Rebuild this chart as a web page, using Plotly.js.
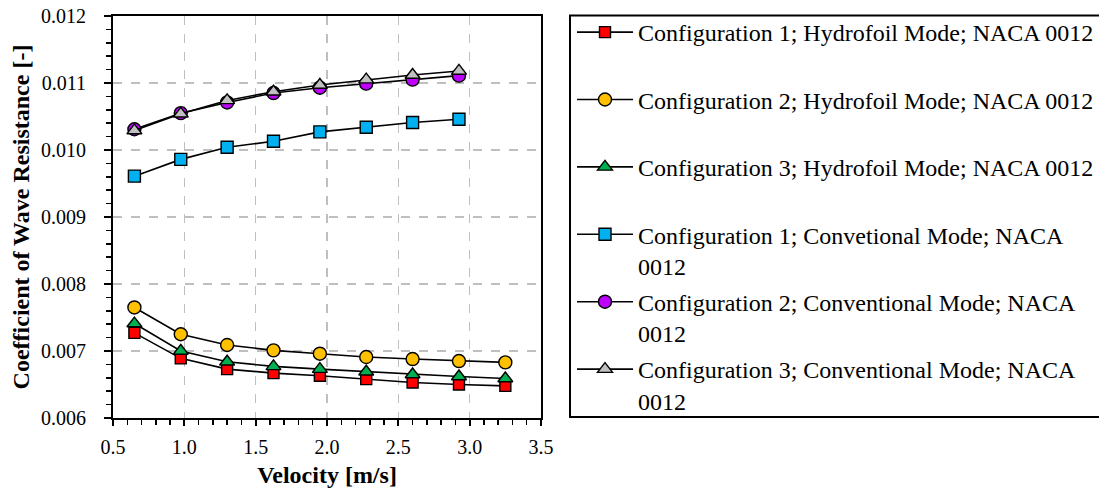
<!DOCTYPE html>
<html>
<head>
<meta charset="utf-8">
<script src="https://cdn.plot.ly/plotly-3.0.1.min.js"></script>
<style>html,body{margin:0;padding:0;background:#fff;}#chart{width:1099px;height:496px;}</style>
</head>
<body>
<div id="chart"></div>
<script>
const velocity = [0.65, 0.975, 1.30, 1.625, 1.95, 2.275, 2.60, 2.925, 3.25];
const velocityConv = [0.65, 0.975, 1.30, 1.625, 1.95, 2.275, 2.60, 2.925];

const cfg1Hydro = [0.00727, 0.00689, 0.00673, 0.00667, 0.00663, 0.00658, 0.00653, 0.00650, 0.00648];
const cfg2Hydro = [0.00765, 0.00725, 0.00709, 0.00701, 0.00696, 0.00691, 0.00688, 0.00685, 0.00683];
const cfg3Hydro = [0.00741, 0.00700, 0.00684, 0.00677, 0.00673, 0.00669, 0.00665, 0.00662, 0.00659];
const cfg1Conv = [0.00961, 0.00986, 0.01004, 0.01013, 0.01027, 0.01034, 0.01041, 0.01046];
const cfg2Conv = [0.01031, 0.01055, 0.01071, 0.01085, 0.01093, 0.01099, 0.01105, 0.01111];
const cfg3Conv = [0.01029, 0.01054, 0.01074, 0.01087, 0.01097, 0.01105, 0.01112, 0.01118];

const seriesNames = [
  "Configuration 1; Hydrofoil Mode; NACA 0012<br>&nbsp;",
  "Configuration 2; Hydrofoil Mode; NACA 0012<br>&nbsp;",
  "Configuration 3; Hydrofoil Mode; NACA 0012<br>&nbsp;",
  "Configuration 1; Convetional Mode; NACA<br>0012",
  "Configuration 2; Conventional Mode; NACA<br>0012",
  "Configuration 3; Conventional Mode; NACA<br>0012"
];

const FONT = "Liberation Serif, Times New Roman, serif";

function trace(x, y, name, symbol, color, size, group) {
  return {
    x: x, y: y, name: name, type: 'scatter', mode: 'lines+markers',
    line: {color: '#000000', width: 1.6},
    marker: {symbol: symbol, color: color, size: size, line: {color: '#000000', width: 1.4}},
    legendgroup: group
  };
}

const data = [
  trace(velocity, cfg1Hydro, seriesNames[0], 'square', '#FF0000', 11, 'g1'),
  trace(velocity, cfg2Hydro, seriesNames[1], 'circle', '#FFC000', 13, 'g2'),
  trace(velocity, cfg3Hydro, seriesNames[2], 'triangle-up', '#00B050', 13, 'g3'),
  trace(velocityConv, cfg1Conv, seriesNames[3], 'square', '#00B0F0', 12, 'g4'),
  trace(velocityConv, cfg2Conv, seriesNames[4], 'circle', '#C000FF', 13, 'g5'),
  trace(velocityConv, cfg3Conv, seriesNames[5], 'triangle-up', '#C0C0C0', 13, 'g6')
];

// plot area in pixels: x 113..541, y 16..418
const PL = 113, PR = 541, PT = 16, PB = 418;
function px2x(p) { return (p - PL) / (PR - PL); }
function px2y(p) { return (PB - p) / (PB - PT); }

const layout = {
  width: 1099, height: 496,
  margin: {l: PL, r: 1099 - PR, t: PT, b: 496 - PB, autoexpand: false},
  paper_bgcolor: '#ffffff', plot_bgcolor: '#ffffff',
  font: {family: FONT, color: '#000000', size: 20},
  showlegend: true,
  xaxis: {
    range: [0.5, 3.5], dtick: 0.5, tick0: 0.5, tickformat: '.1f',
    showline: true, linecolor: '#000000', linewidth: 2, mirror: true,
    ticks: 'outside', ticklen: 6, tickwidth: 2, tickcolor: '#000000',
    ticklabelstandoff: 4,
    showgrid: true, gridcolor: '#BFBFBF', gridwidth: 1.5, griddash: 'dash',
    minor: {dtick: 0.1, ticks: 'outside', ticklen: 5, tickwidth: 1.5, tickcolor: '#000000', showgrid: false},
    zeroline: false,
    tickfont: {family: FONT, size: 20},
    title: {text: '<b>Velocity [m/s]</b>', font: {family: FONT, size: 24}, standoff: 9}
  },
  yaxis: {
    range: [0.006, 0.012], dtick: 0.001, tick0: 0.006, tickformat: '.3f',
    showline: true, linecolor: '#000000', linewidth: 2, mirror: true,
    ticks: 'outside', ticklen: 7, tickwidth: 2, tickcolor: '#000000',
    ticklabelstandoff: 14,
    showgrid: true, gridcolor: '#BFBFBF', gridwidth: 1.5, griddash: 'dash',
    minor: {dtick: 0.0002, ticks: 'outside', ticklen: 5, tickwidth: 1.5, tickcolor: '#000000', showgrid: false},
    zeroline: false,
    tickfont: {family: FONT, size: 20},
    title: {text: '<b>Coefficient of Wave Resistance [-]</b>', font: {family: FONT, size: 24}, standoff: 5}
  },
  legend: {
    x: px2x(572), xanchor: 'left', y: px2y(10), yanchor: 'top',
    bordercolor: '#000000', borderwidth: 0, bgcolor: 'rgba(0,0,0,0)',
    font: {family: FONT, size: 24, color: '#000000'},
    valign: 'top', itemwidth: 56, tracegroupgap: 2,
    traceorder: 'grouped', maxheight: 600
  },
  shapes: [{
    type: 'rect', xref: 'paper', yref: 'paper',
    x0: px2x(570), x1: px2x(1110), y0: px2y(417), y1: px2y(15.5),
    line: {color: '#000000', width: 2}, fillcolor: 'rgba(0,0,0,0)', layer: 'below'
  }]
};

Plotly.newPlot('chart', data, layout, {displayModeBar: false, staticPlot: true});
</script>
</body>
</html>
